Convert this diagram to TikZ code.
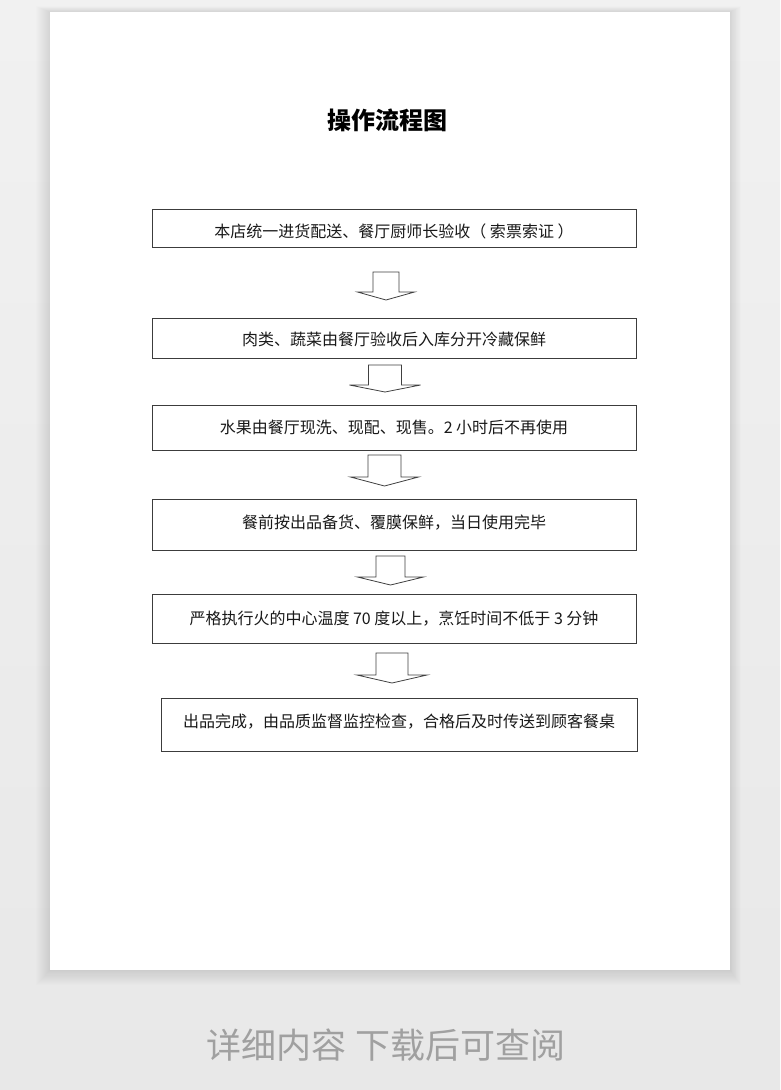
\documentclass[tikz,border=0pt]{standalone}
\usepackage{fontspec}
\setmainfont{Noto Sans CJK SC}
\newfontfamily\cjk{Noto Sans CJK SC}
\usetikzlibrary{calc}
\definecolor{bgtop}{HTML}{F1F1F1}
\definecolor{bgbot}{HTML}{E8E8E8}
\definecolor{boxline}{HTML}{3C3C3C}
\definecolor{notegray}{HTML}{A0A0A0}
\tikzset{
  stepbox/.style={draw=boxline, line width=0.9pt, fill=white, inner sep=0pt},
  boxtext/.style={inner sep=0pt, font=\cjk\fontsize{16}{19}\selectfont, text=black!90},
  arrowline/.style={draw=black!75, line width=0.8pt, fill=white, line join=miter},
  pics/barrow/.style n args={4}{code={
    % #1 stem half width, #2 head half width, #3 shoulder depth, #4 tip depth
    \draw[arrowline] (-#1,0) -- (#1,0) -- (#1,#3) -- (#2,#3) -- (0,#4)
      -- (-#2,#3) -- (-#1,#3) -- cycle;
  }}
}
\begin{document}
\begin{tikzpicture}[x=1pt,y=-1pt]
\useasboundingbox (0,0) rectangle (780,1090);
% background
\shade[top color=bgtop, bottom color=bgbot] (0,0) rectangle (780,1090);
% soft page shadow
\foreach \i in {1,...,14}{
  \fill[black, opacity=0.007] (50-\i,12-\i*0.4) rectangle (730+\i*0.8,970+\i*1.1);
}
% page
\fill[white] (50,12) rectangle (730,970);

% title
\node[font=\cjk\bfseries\fontsize{24}{28}\selectfont] (title) at (387,120) {操作流程图};

% boxes
\node[stepbox, minimum width=484pt, minimum height=38pt] (b1) at (394,228) {};
\node[stepbox, minimum width=484pt, minimum height=40pt] (b2) at (394,338) {};
\node[stepbox, minimum width=484pt, minimum height=45pt] (b3) at (394,427.5) {};
\node[stepbox, minimum width=484pt, minimum height=51pt] (b4) at (394,524.5) {};
\node[stepbox, minimum width=484pt, minimum height=49pt] (b5) at (394,618.5) {};
\node[stepbox, minimum width=476pt, minimum height=53pt] (b6) at (399,724.5) {};

% box texts
\node[boxtext] (t1) at ([yshift=-3.5pt]b1.center) {本店统一进货配送、餐厅厨师长验收（ 索票索证 ）};
\node[boxtext] (t2) at ([yshift=-1pt]b2.center) {肉类、蔬菜由餐厅验收后入库分开冷藏保鲜};
\node[boxtext] (t3) at (b3.center) {水果由餐厅现洗、现配、现售。2 小时后不再使用};
\node[boxtext] (t4) at ([yshift=1.5pt]b4.center) {餐前按出品备货、覆膜保鲜，当日使用完毕};
\node[boxtext] (t5) at (b5.center) {严格执行火的中心温度 70 度以上，烹饪时间不低于 3 分钟};
\node[boxtext] (t6) at ([yshift=3pt]b6.center) {出品完成，由品质监督监控检查，合格后及时传送到顾客餐桌};

% block arrows between boxes
\coordinate (a1) at (386,272);
\coordinate (a2) at (385,365);
\coordinate (a3) at (384.5,455);
\coordinate (a4) at (390.5,556);
\coordinate (a5) at (392,653);
\pic at (a1) {barrow={13}{28.5}{20}{28}};
\pic at (a2) {barrow={16.5}{35.5}{20}{27}};
\pic at (a3) {barrow={16.5}{34}{22}{31}};
\pic at (a4) {barrow={14.5}{33}{21}{29}};
\pic at (a5) {barrow={16}{35}{22}{30}};

% footer note
\node[font=\cjk\fontsize{35}{40}\selectfont, text=notegray] (note) at (386,1045)
  {详细内容\hspace{0.25em}下载后可查阅};
\end{tikzpicture}
\end{document}
